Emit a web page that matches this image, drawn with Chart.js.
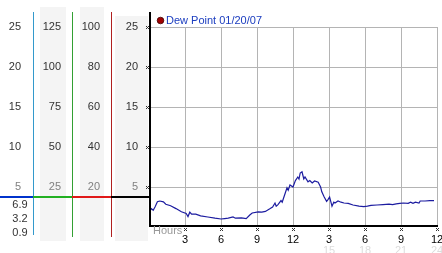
<!DOCTYPE html>
<html>
<head>
<meta charset="utf-8">
<script src="https://cdn.jsdelivr.net/npm/chart.js@4.4.0/dist/chart.umd.min.js"></script>
<style>
  html, body { margin: 0; padding: 0; background: #fff; }
  #wrap { width: 442px; height: 253px; position: relative; }
</style>
</head>
<body>
<div id="wrap"><canvas id="dew"></canvas></div>
<script>
// jam (0-24) dan titik embun yang dibaca dari gambar
const hours = [0.05, 0.2, 0.35, 0.5, 0.7, 0.9, 1.2, 1.4, 1.8, 2.25, 2.7, 3.1, 3.25, 3.4, 3.55, 3.9, 4.3, 4.9, 5.5, 6.0,
  6.3, 6.6, 7.0, 7.2, 7.7, 8.1, 8.4, 8.6, 9.1, 9.4, 9.7, 10.1, 10.3, 10.5, 10.6, 10.75, 11.0, 11.1, 11.3, 11.5,
  11.6, 11.75, 12.0, 12.2, 12.4, 12.5, 12.6, 12.75, 12.9, 13.0, 13.25, 13.4, 13.6, 13.8, 14.1, 14.3, 14.4, 14.6, 14.8, 14.9,
  15.05, 15.2, 15.25, 15.4, 15.5, 15.75, 16.0, 16.25, 16.6, 17.0, 17.5, 17.9, 18.2, 18.5, 19.0, 19.5, 20.0, 20.3, 20.6, 20.9,
  21.2, 21.6, 21.8, 22.0, 22.2, 22.5, 22.6, 23.0, 23.4, 23.75];
const dewPoint = [1.9, 2.3, 2.1, 2.5, 3.15, 3.25, 3.15, 2.85, 2.65, 2.3, 1.9, 1.7, 1.3, 1.85, 1.6, 1.6, 1.4, 1.25, 1.1, 1.0,
  1.05, 1.1, 1.25, 1.1, 1.15, 1.05, 1.5, 1.75, 1.9, 1.85, 1.95, 2.3, 2.5, 3.0, 2.6, 2.8, 3.3, 3.1, 4.0, 4.9,
  4.6, 5.25, 5.0, 5.8, 6.25, 6.0, 6.75, 6.9, 6.0, 6.25, 5.65, 5.8, 5.5, 5.75, 5.6, 5.0, 4.4, 3.75, 3.2, 3.4,
  3.75, 2.9, 2.6, 3.1, 3.0, 3.25, 3.1, 3.0, 2.95, 2.75, 2.6, 2.55, 2.6, 2.7, 2.75, 2.8, 2.85, 2.8, 2.9, 2.95,
  3.0, 2.95, 3.1, 2.95, 3.1, 3.0, 3.25, 3.25, 3.3, 3.3];

const yTicks = [5, 10, 15, 20, 25];
const col1Labels = ["5", "10", "15", "20", "25"];
const col2Labels = ["25", "50", "75", "100", "125"];
const col3Labels = ["20", "40", "60", "80", "100"];
const col4Labels = ["5", "10", "15", "20", "25"];
const statLabels = ["6.9", "3.2", "0.9"];
const xTicks = [3, 6, 9, 12, 15, 18, 21, 24];
const xLabels = ["3", "6", "9", "12", "3", "6", "9", "12"];
const xFaintTicks = [15, 18, 21, 24];
const xFaintLabels = ["15", "18", "21", "24"];
const markerLevel = 3.75;
const legendText = "Dew Point 01/20/07";

const FONT = "11px 'Liberation Sans', Arial, sans-serif";

// tanda kecil di sumbu
function tinyMark(ctx, x, y, color) {
  ctx.fillStyle = color;
  ctx.fillRect(x - 1, y - 1, 1, 1);
  ctx.fillRect(x + 1, y - 1, 1, 1);
  ctx.fillRect(x, y, 1, 1);
  ctx.fillRect(x - 1, y + 1, 1, 1);
  ctx.fillRect(x + 1, y + 1, 1, 1);
}

// panel kiri: kolom skala, garis warna
const sidePanel = {
  id: "sidePanel",
  beforeDraw(chart) {
    const { ctx } = chart;
    ctx.save();
    ctx.fillStyle = "#f4f4f4";
    ctx.fillRect(40, 7, 26, 234);
    ctx.fillRect(80, 7, 24, 234);
    ctx.fillRect(115, 16, 33, 225);
    ctx.restore();
  },
  afterDraw(chart) {
    const { ctx, chartArea: area, scales: { x, y } } = chart;
    ctx.save();

    // garis vertikal berwarna
    ctx.fillStyle = "#3399cc";
    ctx.fillRect(33, 12, 1, 223);
    ctx.fillStyle = "#33a033";
    ctx.fillRect(72, 12, 1, 225);
    ctx.fillStyle = "#b02020";
    ctx.fillRect(111, 12, 1, 225);

    // sumbu hitam
    ctx.fillStyle = "#000";
    ctx.fillRect(Math.round(area.left), 12, 2, Math.round(area.bottom) - 11);
    ctx.fillRect(Math.round(area.left), Math.round(area.bottom), Math.round(area.right - area.left) + 1, 2);

    // garis horizontal penanda
    const ym = Math.round(y.getPixelForValue(markerLevel));
    ctx.fillStyle = "#0033cc";
    ctx.fillRect(0, ym - 1, 33, 2);
    ctx.fillStyle = "#22b022";
    ctx.fillRect(33, ym - 1, 39, 2);
    ctx.fillStyle = "#e01818";
    ctx.fillRect(72, ym - 1, 39, 2);
    ctx.fillStyle = "#000";
    ctx.fillRect(111, ym - 1, Math.round(area.left) - 111, 2);

    // label kolom
    ctx.font = FONT;
    ctx.fillStyle = "#808080";
    ctx.textAlign = "right";
    ctx.textBaseline = "middle";
    yTicks.forEach((v, i) => {
      const py = y.getPixelForValue(v);
      ctx.fillText(col1Labels[i], 21, py);
      ctx.fillText(col2Labels[i], 61, py);
      ctx.fillText(col3Labels[i], 100, py);
      ctx.fillText(col4Labels[i], 138, py);
      tinyMark(ctx, Math.round(area.left) - 2, Math.round(py), "#333");
    });
    ctx.textAlign = "center";
    statLabels.forEach((s, i) => {
      ctx.fillText(s, 20, ym + 8 + i * 14);
    });

    // label sumbu x
    ctx.fillStyle = "#999";
    ctx.textAlign = "left";
    ctx.fillText("Hours", 153, 231);
    ctx.textAlign = "center";
    xTicks.forEach((h, i) => {
      const px = x.getPixelForValue(h);
      tinyMark(ctx, Math.round(px), 229, "#333");
      ctx.fillStyle = "#000";
      ctx.fillText(xLabels[i], px, 240);
    });
    ctx.fillStyle = "#dcdcdc";
    xFaintTicks.forEach((h, i) => {
      ctx.fillText(xFaintLabels[i], x.getPixelForValue(h), 251);
    });

    // legenda
    ctx.beginPath();
    ctx.arc(160.5, 20.5, 3.3, 0, Math.PI * 2);
    ctx.fillStyle = "#a00000";
    ctx.fill();
    ctx.strokeStyle = "#400000";
    ctx.lineWidth = 0.8;
    ctx.stroke();
    ctx.fillStyle = "#1a3cbf";
    ctx.textAlign = "left";
    ctx.fillText(legendText, 166, 21);

    ctx.restore();
  },
};

new Chart(document.getElementById("dew"), {
  type: "line",
  data: {
    datasets: [{
      data: hours.map((h, i) => ({ x: h, y: dewPoint[i] })),
      borderColor: "#1c1ca0",
      borderWidth: 1.2,
      pointRadius: 0,
      tension: 0,
      fill: false,
    }],
  },
  options: {
    responsive: true,
    maintainAspectRatio: false,
    animation: false,
    layout: { padding: { left: 149, right: 5, top: 27, bottom: 28 } },
    plugins: {
      legend: { display: false },
      tooltip: { enabled: false },
    },
    scales: {
      x: {
        type: "linear",
        min: 0,
        max: 24,
        ticks: { stepSize: 3, display: false },
        grid: { color: "#b4b4b4", lineWidth: 1, drawTicks: false },
        border: { display: false },
      },
      y: {
        min: 0.25,
        max: 25,
        afterBuildTicks: (axis) => { axis.ticks = yTicks.map((v) => ({ value: v })); },
        ticks: { display: false },
        grid: { color: "#b4b4b4", lineWidth: 1, drawTicks: false },
        border: { display: false },
      },
    },
  },
  plugins: [sidePanel],
});
</script>
</body>
</html>
